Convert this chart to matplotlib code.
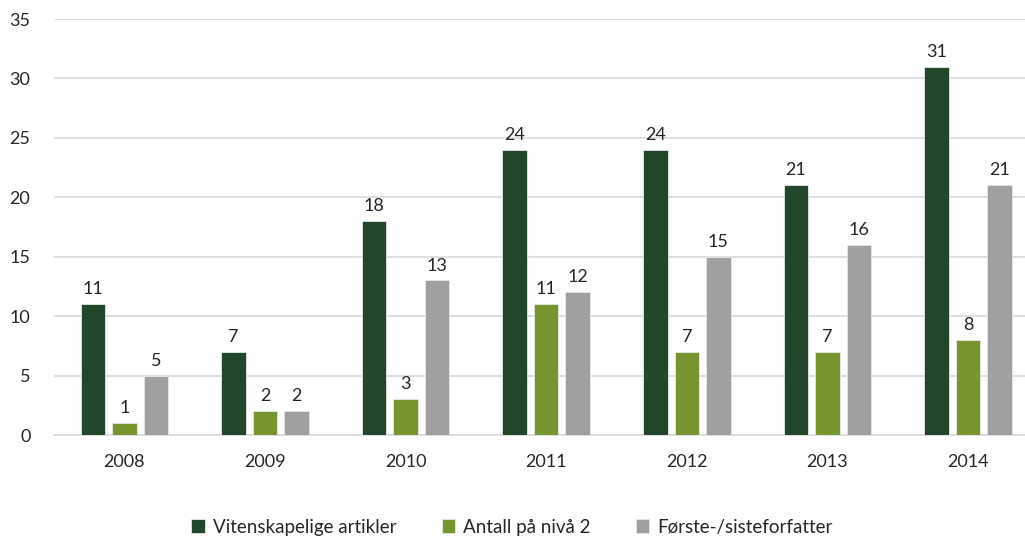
import matplotlib
matplotlib.use("Agg")
import matplotlib.pyplot as plt
import numpy as np

years = ["2008", "2009", "2010", "2011", "2012", "2013", "2014"]
vitenskapelige = [11, 7, 18, 24, 24, 21, 31]
niva2 = [1, 2, 3, 11, 7, 7, 8]
forste_siste = [5, 2, 13, 12, 15, 16, 21]

series = [
    ("Vitenskapelige artikler", vitenskapelige, "#21462A"),
    ("Antall på nivå 2", niva2, "#77952F"),
    ("Første-/sisteforfatter", forste_siste, "#A0A0A0"),
]

plt.rcParams["font.family"] = ["Lato", "DejaVu Sans"]

W, H = 1025, 537
fig = plt.figure(figsize=(W / 100, H / 100), dpi=100)
ax = fig.add_axes([54 / W, 1 - 435 / H, (W - 54) / W, (435 - 19) / H])

x = np.arange(len(years))
width = 0.174
step = 0.224
text_color = "#262626"
fs = 13

for i, (label, vals, color) in enumerate(series):
    pos = x + (i - 1) * step
    bars = ax.bar(pos, vals, width, color=color, edgecolor="#E8E8E8",
                  linewidth=0.6, label=label, zorder=3)
    for b, v in zip(bars, vals):
        ax.annotate(str(v), (b.get_x() + b.get_width() / 2, v),
                    xytext=(0, 5), textcoords="offset points",
                    ha="center", va="bottom", fontsize=fs, color=text_color)

ax.set_xlim(-0.5, 6.405)
ax.set_ylim(0, 35)
ax.set_yticks(range(0, 36, 5))
ax.set_xticks(x)
ax.set_xticklabels(years)
ax.yaxis.grid(True, color="#D9D9D9", linewidth=1.2, zorder=0)
ax.set_axisbelow(True)
for s in ["top", "right", "left"]:
    ax.spines[s].set_visible(False)
ax.spines["bottom"].set_color("#D9D9D9")
ax.spines["bottom"].set_linewidth(1.2)
ax.tick_params(axis="both", length=0, labelsize=fs, colors=text_color)
ax.tick_params(axis="x", pad=14)
ax.tick_params(axis="y", pad=17)

ax.legend(loc="center", bbox_to_anchor=(512 / W, 1 - 527 / H),
          bbox_transform=fig.transFigure, ncol=3, frameon=False,
          fontsize=13.5, handlelength=0.7, handleheight=0.7,
          columnspacing=2.4, handletextpad=0.45, labelcolor=text_color)

fig.savefig("out.png", dpi=100)
